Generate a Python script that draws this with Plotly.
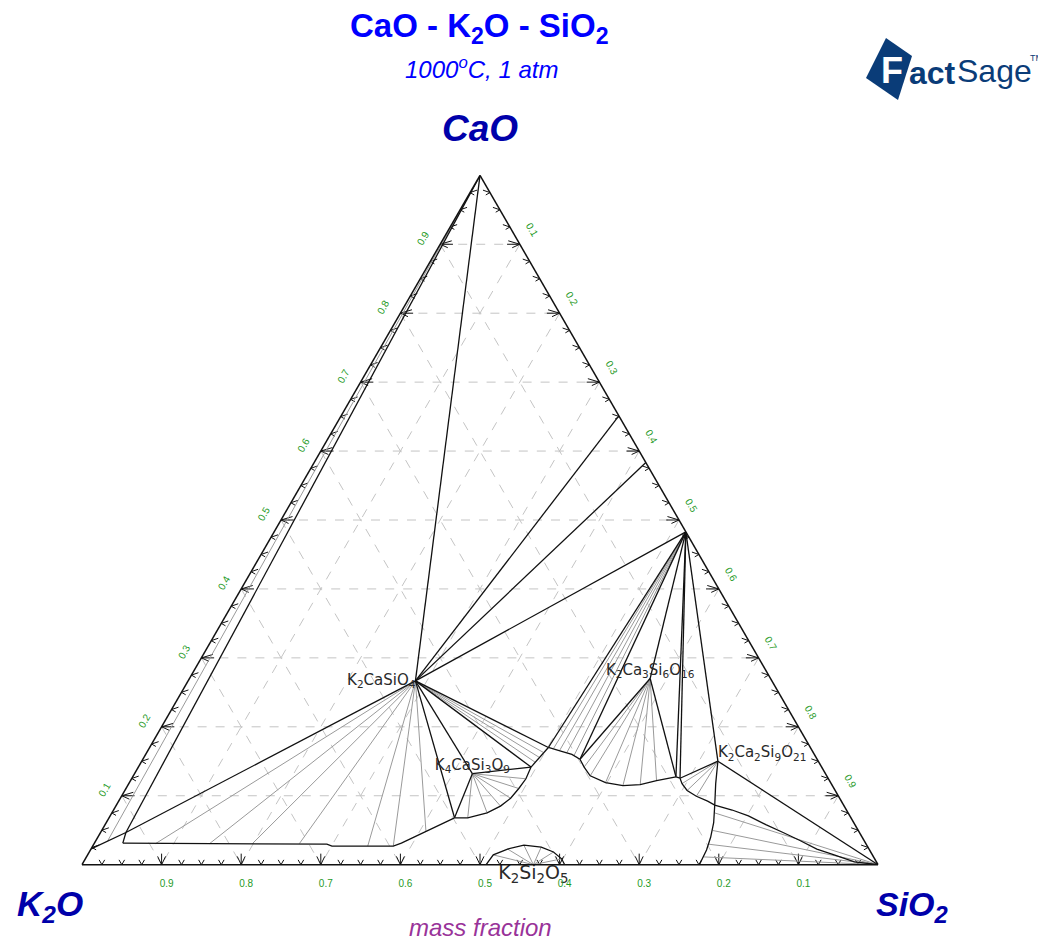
import plotly.graph_objects as go

W, H = 1046, 941          # browser window
OFF = 8                   # default page margin around the plot div
FW, FH = W - OFF, H - OFF

# ---------------- data: compositions as (CaO, K2O, SiO2) mass fractions ----------------
CaO = (1.0, 0.0, 0.0)
SiO2 = (0.0, 0.0, 1.0)
K2CaSiO4 = (0.2666, 0.4478, 0.2856)
K4CaSi3O9 = (0.1320, 0.4436, 0.4244)
K2Ca3Si6O16 = (0.2701, 0.1512, 0.5787)
K2Ca2Si9O21 = (0.1501, 0.1261, 0.7238)
K2Si2O5 = (0.0, 0.433, 0.567)
CaSiO3 = (0.4828, 0.0, 0.5172)
Ca2SiO4 = (0.6512, 0.0, 0.3488)
Ca3Si2O7 = (0.5833, 0.0, 0.4167)

# liquid / boundary points
L0 = (0.023, 0.977, 0.0)
L1 = (0.0467, 0.9215, 0.0318)
L1b = (0.0312, 0.9331, 0.0357)
L2 = (0.068, 0.498, 0.434)
L3 = (0.1416, 0.3651, 0.4933)
L4 = (0.170, 0.3291, 0.5009)
L5 = (0.153, 0.2979, 0.5491)
L6 = (0.1275, 0.1901, 0.6824)
L6p = (0.1254, 0.186, 0.6886)
L7 = (0.0992, 0.1786, 0.7222)
L8 = (0.0864, 0.1619, 0.7517)
CaO_tie = (0.034, 0.951, 0.015)

liq_bottom = [L1b, (0.0297, 0.6775, 0.2928), (0.0269, 0.6725, 0.3006),
              (0.0269, 0.5955, 0.3776), (0.0312, 0.5832, 0.3856), L2]
k2casio4_ties = [(0.0305, 0.8924, 0.0771), (0.0305, 0.8245, 0.1450), (0.0305, 0.7707, 0.1988),
                 (0.0305, 0.7117, 0.2578), (0.0269, 0.6276, 0.3455), (0.0269, 0.5955, 0.3776),
                 (0.0482, 0.5438, 0.4080)]
curve_L2_L3 = [L2, (0.068, 0.4814, 0.4506), (0.0751, 0.4535, 0.4714), (0.085, 0.4318, 0.4832),
               (0.0963, 0.4134, 0.4903), (0.1105, 0.396, 0.4935), (0.1246, 0.38, 0.4954), L3]
k2casio4_ties2 = [(0.1487, 0.3564, 0.4949), (0.1558, 0.3478, 0.4964), (0.1629, 0.339, 0.4981)]
curve_L4_L5 = [L4, (0.1643, 0.3153, 0.5204), (0.160, 0.3046, 0.5354), L5]
casio3_ties = [(0.1686, 0.3233, 0.5081), (0.1657, 0.3171, 0.5172), (0.1622, 0.310, 0.5278),
               (0.1579, 0.3031, 0.539)]
curve_L5_L6 = [L5, (0.1416, 0.2984, 0.560), (0.1289, 0.2971, 0.574), (0.119, 0.2828, 0.5982),
               (0.1147, 0.2631, 0.6222), (0.1161, 0.2407, 0.6432), (0.1218, 0.2173, 0.6609), L6]
curve_L6_SiO2 = [L6p, (0.1176, 0.1874, 0.695), (0.1076, 0.186, 0.7064), L7,
                 (0.0921, 0.168, 0.7399), L8, (0.0793, 0.1436, 0.7771), (0.0708, 0.1274, 0.8018),
                 (0.0581, 0.1119, 0.830), (0.0467, 0.0959, 0.8574), (0.0354, 0.081, 0.8836),
                 (0.0227, 0.0655, 0.9118), (0.0142, 0.048, 0.9378), (0.0042, 0.0275, 0.9683), SiO2]
k2ca2_ties = [(0.1176, 0.1874, 0.695), (0.1076, 0.186, 0.7064), L7]
curve_vertical = [K2Ca2Si9O21, (0.1176, 0.1451, 0.7373), L8, (0.0609, 0.176, 0.7631),
                  (0.0397, 0.1904, 0.7699), (0.0212, 0.2048, 0.774), (0.0, 0.2244, 0.7756)]
sio2_ties = [(0.0751, 0.1676, 0.7573), (0.0496, 0.1828, 0.7676), (0.0297, 0.198, 0.7723),
             (0.0113, 0.2136, 0.7751)]
k2si2o5_arc = [(0.0, 0.4923, 0.5077), (0.0142, 0.4762, 0.5096), (0.0227, 0.454, 0.5233),
               (0.0283, 0.4307, 0.541), (0.0255, 0.4103, 0.5642), (0.0184, 0.3985, 0.5831),
               (0.0085, 0.3932, 0.5983), (0.0, 0.3936, 0.6064)]

major_vals = [0.1, 0.2, 0.3, 0.4, 0.5, 0.6, 0.7, 0.8, 0.9]
major_labels = ["0.1", "0.2", "0.3", "0.4", "0.5", "0.6", "0.7", "0.8", "0.9"]
minor_vals = [0.025, 0.05, 0.075, 0.125, 0.15, 0.175, 0.225, 0.25, 0.275, 0.325, 0.35, 0.375,
              0.425, 0.45, 0.475, 0.525, 0.55, 0.575, 0.625, 0.65, 0.675, 0.725, 0.75, 0.775,
              0.825, 0.85, 0.875, 0.925, 0.95, 0.975]

compound_labels = ["K<sub>2</sub>CaSiO<sub>4</sub>", "K<sub>4</sub>CaSi<sub>3</sub>O<sub>9</sub>",
                   "K<sub>2</sub>Ca<sub>3</sub>Si<sub>6</sub>O<sub>16</sub>",
                   "K<sub>2</sub>Ca<sub>2</sub>Si<sub>9</sub>O<sub>21</sub>"]
compound_pts = [K2CaSiO4, K4CaSi3O9, K2Ca3Si6O16, K2Ca2Si9O21]
compound_pos = ["middle left", "top center", "top center", "top right"]

# ---------------- figure ----------------
fig = go.Figure()

BLACK = "#111111"
GRAY = "#9a9a9a"


def line(points, color=BLACK, width=1.3, dash=None):
    a, b, c = [], [], []
    for p in points:
        if p is None:
            a.append(None); b.append(None); c.append(None)
        else:
            a.append(p[0]); b.append(p[1]); c.append(p[2])
    fig.add_trace(go.Scatterternary(
        a=a, b=b, c=c, mode="lines", line=dict(color=color, width=width, dash=dash),
        connectgaps=False, hoverinfo="skip", showlegend=False, cliponaxis=False))


# dashed grid
for v in major_vals:
    line([(v, 1 - v, 0), (v, 0, 1 - v)], "#c4c4c4", 1, "dash")
    line([(1 - v, v, 0), (0, v, 1 - v)], "#c4c4c4", 1, "dash")
    line([(1 - v, 0, v), (0, 1 - v, v)], "#c4c4c4", 1, "dash")


# tick marks drawn inside the triangle (V shaped, majors with a stem)
def tick_path(v, d, e, stem, edge):
    if edge == "a":      # left edge, c = 0, ticks point right (constant CaO)
        P = (v, 1 - v, 0)
        D = (0, -1, 1); E = (1, -1, 0)
    elif edge == "b":    # bottom edge, a = 0, ticks point up
        P = (0, v, 1 - v)
        D = (1, -0.5, -0.5); E = (0, 1, -1)
    else:                # right edge, b = 0, ticks point left (constant CaO)
        P = (1 - v, 0, v)
        D = (0, 1, -1); E = (1, 0, -1)
    pt = lambda s, t: tuple(P[i] + s * D[i] + t * E[i] for i in range(3))
    out = [pt(d, e), P, pt(d, -e), None]
    if stem:
        out += [P, pt(stem, 0), None]
    return out


for edge in ["a", "b", "c"]:
    pts = []
    for v in minor_vals:
        pts += tick_path(v, 0.007, 0.0035, 0, edge)
    for v in major_vals:
        pts += tick_path(v, 0.012, 0.005, 0.016, edge)
    line(pts, BLACK, 1)

# gray tie lines
line([CaO, CaO_tie], GRAY, 1)
for p in k2casio4_ties:
    line([K2CaSiO4, p], GRAY, 1)
for p in curve_L2_L3[1:-1]:
    line([K4CaSi3O9, p], GRAY, 1)
for p in k2casio4_ties2:
    line([K2CaSiO4, p], GRAY, 1)
for p in casio3_ties:
    line([CaSiO3, p], GRAY, 1)
for p in curve_L5_L6[1:-1]:
    line([K2Ca3Si6O16, p], GRAY, 1)
for p in k2ca2_ties:
    line([K2Ca2Si9O21, p], GRAY, 1)
for p in sio2_ties:
    line([SiO2, p], GRAY, 1)
for p in k2si2o5_arc[1:-1]:
    line([K2Si2O5, p], GRAY, 1)

# black phase boundaries
for a_, b_ in [(CaO, K2CaSiO4), (K2CaSiO4, Ca2SiO4), (K2CaSiO4, Ca3Si2O7), (K2CaSiO4, CaSiO3),
               (CaO, L1), (K2CaSiO4, L1), (L0, L1), (L1, L1b), (K2CaSiO4, L2),
               (K2CaSiO4, K4CaSi3O9), (K4CaSi3O9, L2), (K4CaSi3O9, L3), (K2CaSiO4, L3),
               (L3, L4), (K2CaSiO4, L4), (CaSiO3, L4), (CaSiO3, L5), (K2Ca3Si6O16, L5),
               (K2Ca3Si6O16, CaSiO3), (K2Ca3Si6O16, L6), (CaSiO3, L6), (L6, L6p), (CaSiO3, L6p),
               (CaSiO3, K2Ca2Si9O21), (K2Ca2Si9O21, L6p), (K2Ca2Si9O21, SiO2)]:
    line([a_, b_])
for crv in [liq_bottom, curve_L2_L3, curve_L4_L5, curve_L5_L6, curve_L6_SiO2, curve_vertical,
            k2si2o5_arc]:
    line(crv)

# compound labels
for lab, p, pos in zip(compound_labels, compound_pts, compound_pos):
    fig.add_trace(go.Scatterternary(
        a=[p[0]], b=[p[1]], c=[p[2]], mode="text", text=[lab], textposition=pos,
        textfont=dict(family="DejaVu Sans", size=15, color="#2a2a2a"),
        hoverinfo="skip", showlegend=False, cliponaxis=False))
fig.add_trace(go.Scatterternary(
    a=[K2Si2O5[0]], b=[K2Si2O5[1]], c=[K2Si2O5[2]], mode="text",
    text=["K<sub>2</sub>Si<sub>2</sub>O<sub>5</sub>"], textposition="bottom center",
    textfont=dict(family="DejaVu Sans", size=19, color="#2a2a2a"),
    hoverinfo="skip", showlegend=False, cliponaxis=False))

axis_common = dict(
    tickmode="array", tickvals=major_vals, ticktext=major_labels,
    ticks="outside", ticklen=10, tickwidth=1, tickcolor="rgba(0,0,0,0)",
    showgrid=False, linecolor=BLACK, linewidth=1.5,
    tickfont=dict(family="Liberation Sans", size=10, color="#1f9a1f"),
    title=dict(text=""),
)


def fx(x):
    return (x - OFF) / FW


def fy(y):
    return 1 - (y - OFF) / FH


# triangle placement (page pixels): centre x 480, centre y 520, side 796
tw = 796 / FW
th = 796 * 0.8660254 / FH
cx, cy = fx(480), fy(520)
fig.update_layout(
    width=FW, height=FH,
    margin=dict(l=0, r=0, t=0, b=0),
    paper_bgcolor="white",
    ternary=dict(
        sum=1,
        bgcolor="white",
        domain=dict(x=[cx - tw / 2, cx + tw / 2], y=[cy - th / 2, cy + th / 2]),
        aaxis=dict(axis_common, tickangle=-60),
        baxis=dict(axis_common, tickangle=0),
        caxis=dict(axis_common, tickangle=60),
    ),
)


def px(x, y):
    return dict(x=fx(x), y=fy(y), xref="paper", yref="paper",
                xanchor="center", yanchor="middle")


NAVY = "#0a3c78"
ann = [
    dict(px(479, 28), text="<b>CaO - K<sub>2</sub>O - SiO<sub>2</sub></b>",
         font=dict(family="Liberation Sans", size=33, color="#0000ff")),
    dict(px(481, 68), text="<i>1000<sup>o</sup>C, 1 atm</i>",
         font=dict(family="Liberation Sans", size=24, color="#0000ff")),
    dict(px(480, 128), text="<b><i>CaO</i></b>",
         font=dict(family="Liberation Sans", size=37, color="#0000aa")),
    dict(px(50, 906), text="<b><i>K<sub>2</sub>O</i></b>",
         font=dict(family="Liberation Sans", size=35, color="#0000aa")),
    dict(px(912, 906), text="<b><i>SiO<sub>2</sub></i></b>",
         font=dict(family="Liberation Sans", size=34, color="#0000aa")),
    dict(px(480, 927), text="<i>mass fraction</i>",
         font=dict(family="Liberation Sans", size=24, color="#993399")),
    dict(px(892, 70), text="<b>F</b>",
         font=dict(family="Liberation Sans", size=36, color="white")),
    dict(px(932, 73), text="<b>act</b>",
         font=dict(family="Liberation Sans", size=32, color=NAVY)),
    dict(px(994, 71), text="Sage",
         font=dict(family="Liberation Sans Narrow, Liberation Sans", size=32, color=NAVY)),
    dict(px(1036, 58), text="TM",
         font=dict(family="Liberation Sans", size=9, color=NAVY)),
]
for a in ann:
    a.setdefault("showarrow", False)
    fig.add_annotation(**a)

fig.add_shape(type="path", xref="paper", yref="paper",
              path="M {} {} L {} {} L {} {} L {} {} Z".format(
                  fx(866), fy(78), fx(886), fy(38), fx(912), fy(56), fx(898), fy(100)),
              fillcolor=NAVY, line=dict(width=0), layer="below")

fig.write_html("out.html")
